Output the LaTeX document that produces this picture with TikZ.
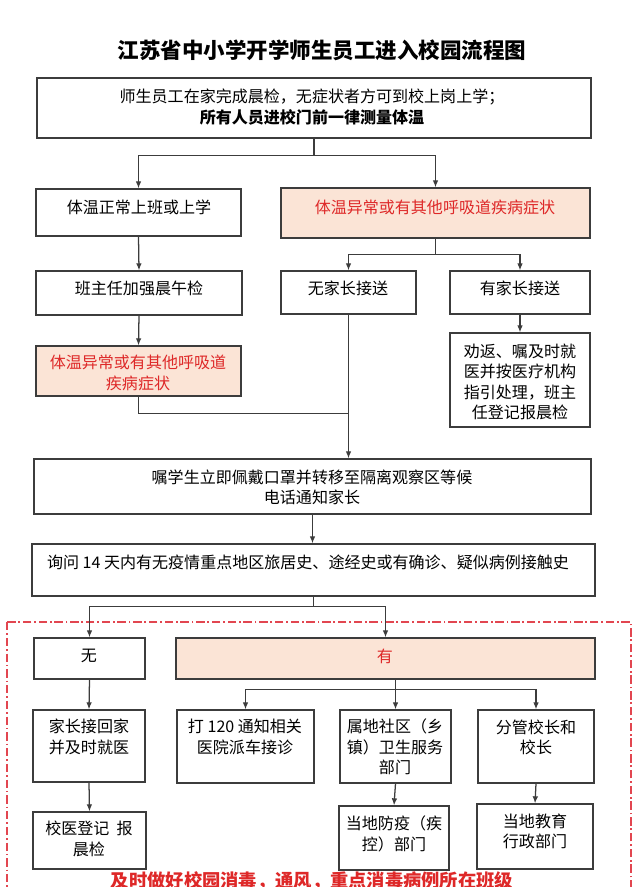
\documentclass[tikz,border=0pt]{standalone}
\usepackage{fontspec}
\setmainfont{Noto Sans CJK SC}
\usepackage{xcolor}
\usetikzlibrary{fit,arrows.meta}

\definecolor{boxgray}{RGB}{60,60,60}
\definecolor{peach}{RGB}{251,228,214}
\definecolor{alertred}{RGB}{222,40,40}
\definecolor{dashred}{RGB}{226,70,80}

\begin{document}
\begin{tikzpicture}[x=0.025cm,y=-0.025cm,
  box/.style={draw=boxgray,line width=0.9pt,inner sep=0pt},
  warnbox/.style={box,fill=peach},
  txt/.style={align=center,font=\fontsize{11.4pt}{14.4pt}\selectfont},
  warntxt/.style={txt,text=alertred},
  link/.style={draw=boxgray,line width=0.9pt},
  arr/.style={link,-{Latex[length=5pt,width=4pt]}}]
\useasboundingbox (0,0) rectangle (640,887);

% Title
\node[font=\fontsize{15.3pt}{18pt}\selectfont\bfseries] (title) at (322,50) {江苏省中小学开学师生员工进入校园流程图};

% Morning check at home
\node[box,fit={(37,78) (591,138)}] (home) {};
\node[txt] (homet) at (312,107) {师生员工在家完成晨检，无症状者方可到校上岗上学；\\\textbf{所有人员进校门前一律测量体温}};

% Temperature normal / abnormal
\node[box,fit={(36,189) (241,236)}] (normal) {};
\node[txt] (normalt) at (139,207) {体温正常上班或上学};
\node[warnbox,fit={(281,188) (590,238)}] (abn) {};
\node[warntxt] (abnt) at (435,207) {体温异常或有其他呼吸道疾病症状};

% Class teacher checks
\node[box,fit={(36,271) (242,315)}] (teacher) {};
\node[txt] (teachert) at (139,288) {班主任加强晨午检};
\node[warnbox,fit={(36,346) (241,396)}] (sym) {};
\node[warntxt] (symt) at (138,373) {体温异常或有其他呼吸道\\疾病症状};

% Parents
\node[box,fit={(281,271) (416,314)}] (nopar) {};
\node[txt] (nopart) at (348,288) {无家长接送};
\node[box,fit={(450,271) (590,314)}] (haspar) {};
\node[txt] (haspart) at (520,288) {有家长接送};
\node[box,fit={(450,333) (590,427)}] (advise) {};
\node[txt] (adviset) at (520,382) {劝返、嘱及时就\\医并按医疗机构\\指引处理，班主\\任登记报晨检};

% Isolation
\node[box,fit={(34,459) (591,514)}] (isolate) {};
\node[txt] (isolatet) at (312,487) {嘱学生立即佩戴口罩并转移至隔离观察区等候\\电话通知家长};

% Travel history
\node[box,fit={(32,544) (595,596)}] (ask) {};
\node[txt] (askt) at (308,562) {询问 14 天内有无疫情重点地区旅居史、途经史或有确诊、疑似病例接触史};

% Dashed area
\draw[dashred,line width=0.8pt,dash pattern=on 6pt off 2pt on 1.2pt off 2pt] (7,622) rectangle (631,900);

% No history
\node[box,fit={(34,638) (145,679)}] (none) {};
\node[txt] (nonet) at (89,656) {无};
\node[box,fit={(33,710) (145,782)}] (pickup) {};
\node[txt] (pickupt) at (89,737) {家长接回家\\并及时就医};
\node[box,fit={(33,812) (146,869)}] (doc) {};
\node[txt] (doct) at (89,839) {校医登记\ \ 报\\晨检};

% History found
\node[warnbox,fit={(176,638) (595,679)}] (yes) {};
\node[warntxt] (yest) at (385,656) {有};
\node[box,fit={(177,710) (314,783)}] (call) {};
\node[txt] (callt) at (245,737) {打 120 通知相关\\医院派车接诊};
\node[box,fit={(340,710) (451,783)}] (comm) {};
\node[txt] (commt) at (395,747) {属地社区（乡\\镇）卫生服务\\部门};
\node[box,fit={(478,710) (594,783)}] (head) {};
\node[txt] (headt) at (536,737) {分管校长和\\校长};
\node[box,fit={(339,806) (449,870)}] (cdc) {};
\node[txt] (cdct) at (394,834) {当地防疫（疾\\控）部门};
\node[box,fit={(477,804) (593,869)}] (edu) {};
\node[txt] (edut) at (535,831) {当地教育\\行政部门};

% Footer
\node[font=\fontsize{13pt}{15pt}\selectfont\bfseries,text=alertred] (clean) at (312,881) {及时做好校园消毒，通风，重点消毒病例所在班级};

% Arrows
\draw[link] (home.south) -- ++(0,17) coordinate (split1);
\draw[arr] (split1) -| (normal.north);
\draw[arr] (split1) -| (abn.north);
\draw[arr] (normal.south) -- (teacher.north);
\draw[arr] (teacher.south) -- (sym.north);
\draw[link] (abn.south) -- ++(0,16) coordinate (split2);
\draw[arr] (split2) -| (nopar.north);
\draw[arr] (split2) -| (haspar.north);
\draw[arr] (haspar.south) -- (advise.north);
\draw[arr] (nopar.south) -- (nopar.south |- isolate.north);
\draw[link] (sym.south) -- ++(0,17) coordinate (join1) -- (join1 -| nopar.south);
\draw[arr] (isolate.south) -- (isolate.south |- ask.north);
\draw[link] (ask.south) -- ++(0,10) coordinate (split3);
\draw[arr] (split3) -| (none.north);
\draw[arr] (split3) -| (yes.north);
\draw[arr] (none.south) -- (pickup.north);
\draw[arr] (pickup.south) -- (doc.north);
\draw[link] (yes.south -| comm.north) -- ++(0,10) coordinate (split4);
\draw[arr] (split4) -| (call.north);
\draw[arr] (split4) -- (comm.north);
\draw[arr] (split4) -| (head.north);
\draw[arr] (comm.south) -- (cdc.north);
\draw[arr] (head.south) -- (edu.north);
\end{tikzpicture}
\end{document}
